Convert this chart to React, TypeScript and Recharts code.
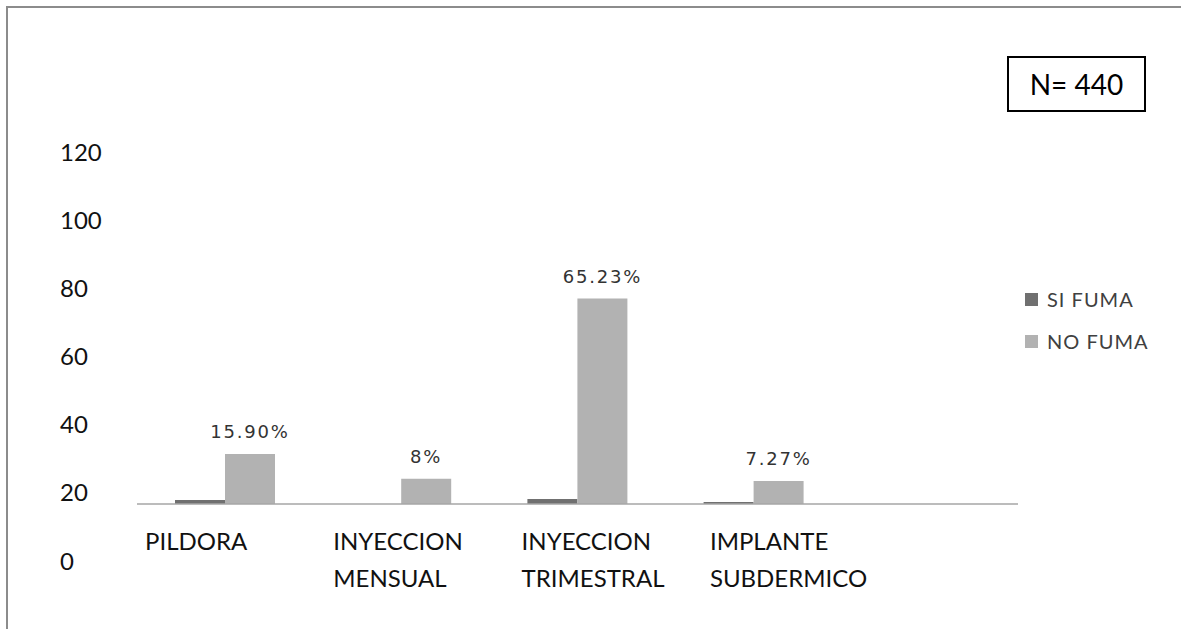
import React from 'react';
import { BarChart, Bar, XAxis, YAxis, LabelList, ReferenceLine, Legend } from 'recharts';

const CATEGORIES = ['PILDORA', 'INYECCION MENSUAL', 'INYECCION TRIMESTRAL', 'IMPLANTE SUBDERMICO', ''];
const SERIES = ['SI FUMA', 'NO FUMA'];
const SI_FUMA = [1.3, 0, 1.6, 0.6, null];
const NO_FUMA = [15.9, 8, 65.23, 7.27, null];
const Y_TICKS = [0, 20, 40, 60, 80, 100, 120];
const LABEL_TICKS = [0, 1, 2, 3];
const SAMPLE_SIZE = 440;

// pos is just the category index, used by the label axis
const data = CATEGORIES.map((name, i) => ({ name, pos: i, si: SI_FUMA[i], no: NO_FUMA[i] }));

const FONT = 'Lato, "Open Sans", sans-serif';

const formatPct = (v: any) => {
  if (v == null) return '';
  return Number.isInteger(v) ? `${v}%` : `${v.toFixed(2)}%`;
};

const YTick = ({ y, payload }: any) => (
  <text x={60} y={y} dy="0.36em" fontSize={24} fontFamily={FONT} fill="#111">
    {payload.value}
  </text>
);

const XTick = ({ x, y, payload }: any) => {
  const lines = (CATEGORIES[payload.value] || '').split(' ');
  return (
    <text x={x} y={y} fontSize={24} fontFamily={FONT} fill="#111">
      {lines.map((line, i) => (
        <tspan key={i} x={x} dy={i === 0 ? 16 : 37}>
          {line}
        </tspan>
      ))}
    </text>
  );
};

const renderLegend = ({ payload }: any) => {
  const items = [...(payload || [])].sort((a: any, b: any) => SERIES.indexOf(a.value) - SERIES.indexOf(b.value));
  return (
    <div>
      {items.map((entry: any) => (
        <div key={entry.value} style={{ display: 'flex', alignItems: 'center', height: 42 }}>
          <span style={{ width: 13, height: 13, background: entry.color, display: 'inline-block' }} />
          <span style={{ marginLeft: 9, fontFamily: FONT, fontSize: 20, letterSpacing: 1, color: '#404040' }}>
            {entry.value}
          </span>
        </div>
      ))}
    </div>
  );
};

export default function App() {
  return (
    <div style={{ position: 'absolute', left: 0, top: 0, width: 1181, height: 629, overflow: 'hidden', background: '#fff' }}>
      <div
        style={{
          position: 'absolute',
          left: 6,
          top: 6,
          width: 1200,
          height: 700,
          borderLeft: '2px solid #8c8c8c',
          borderTop: '2px solid #8c8c8c',
        }}
      />
      <div style={{ position: 'absolute', left: 0, top: 0 }}>
        <BarChart
          width={1181}
          height={629}
          data={data}
          margin={{ top: 63, right: 163, bottom: 0, left: 0 }}
          barGap={0}
        >
          <XAxis xAxisId="bars" dataKey="name" hide />
          <XAxis
            xAxisId="labels"
            type="number"
            dataKey="pos"
            domain={[-0.0425, 4.636]}
            allowDataOverflow
            ticks={LABEL_TICKS}
            interval={0}
            height={125}
            axisLine={false}
            tickLine={false}
            tickSize={0}
            tickMargin={0}
            tick={<XTick />}
          />
          <YAxis yAxisId="bars" domain={[0, 140]} allowDataOverflow hide />
          <YAxis
            yAxisId="labels"
            type="number"
            domain={[16.72, 146.1]}
            allowDataOverflow
            ticks={Y_TICKS}
            interval={0}
            width={137}
            axisLine={false}
            tickLine={false}
            tick={<YTick />}
          />
          <ReferenceLine xAxisId="bars" yAxisId="bars" y={0} stroke="#a6a6a6" strokeWidth={1.5} />
          <Legend
            layout="vertical"
            align="center"
            verticalAlign="middle"
            content={renderLegend}
            wrapperStyle={{ left: 1025, top: 278, width: 150 }}
          />
          <Bar xAxisId="bars" yAxisId="bars" dataKey="si" name={SERIES[0]} fill="#707070" barSize={50} isAnimationActive={false} />
          <Bar xAxisId="bars" yAxisId="bars" dataKey="no" name={SERIES[1]} fill="#b2b2b2" barSize={50} isAnimationActive={false}>
            <LabelList
              dataKey="no"
              position="top"
              offset={16}
              formatter={formatPct}
              fill="#333"
              fontSize={18}
              fontFamily='"DejaVu Sans", Verdana, sans-serif'
              style={{ letterSpacing: 1.8 }}
            />
          </Bar>
        </BarChart>
      </div>
      <div
        style={{
          position: 'absolute',
          left: 1007,
          top: 56,
          width: 139,
          height: 56,
          boxSizing: 'border-box',
          border: '2px solid #000',
          display: 'flex',
          alignItems: 'center',
          justifyContent: 'center',
          fontFamily: FONT,
          fontSize: 28,
          color: '#000',
        }}
      >
        N= {SAMPLE_SIZE}
      </div>
    </div>
  );
}
